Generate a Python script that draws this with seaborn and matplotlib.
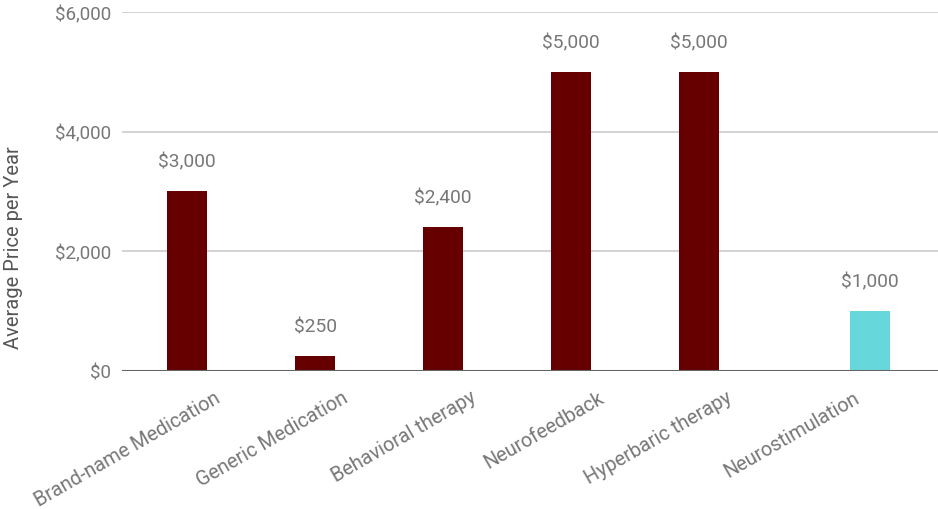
import matplotlib
matplotlib.use("Agg")
import matplotlib.pyplot as plt
import matplotlib.transforms as mtransforms
import seaborn as sns
import pandas as pd

# Treatment categories and yearly cost
categories = [
    "Brand-name Medication",
    "Generic Medication",
    "Behavioral therapy",
    "Neurofeedback",
    "Hyperbaric therapy",
    "Neurostimulation",
]
series = ["Conventional", "Conventional", "Conventional", "Conventional", "Conventional", "Neurostimulation"]
prices = [3000, 250, 2400, 5000, 5000, 1000]
series_order = ["Conventional", "Neurostimulation"]
series_colors = ["#660000", "#66D7DA"]
y_ticks = [0, 2000, 4000, 6000]

df = pd.DataFrame({"category": categories, "series": series, "price": prices})

sns.set_theme(style="white")
plt.rcParams["font.family"] = ["Roboto", "DejaVu Sans"]

fig = plt.figure(figsize=(9.38, 5.10), dpi=100)
ax = fig.add_axes([0.130, 0.2706, 0.870, 0.7039])

sns.barplot(
    data=df, x="category", y="price", hue="series",
    order=categories, hue_order=series_order, palette=series_colors,
    width=0.67, gap=0.07, dodge=True, legend=False, ax=ax,
    saturation=1.0, linewidth=0,
)

text_gray = "#777777"
for cont in ax.containers:
    ax.bar_label(cont, labels=[f"${v:,.0f}" if v == v else "" for v in cont.datavalues],
                 padding=15, color=text_gray, fontsize=13.8)

ax.set_ylim(0, 6000)
ax.set_xlim(-0.676, 5.70)
ax.set_yticks(y_ticks)
ax.set_yticklabels([f"${v:,.0f}" for v in y_ticks], color=text_gray, fontsize=13.5)
ax.yaxis.grid(True, color="#cccccc", linewidth=1.2)
ax.set_axisbelow(True)
ax.tick_params(axis="y", length=0, pad=8)
ax.tick_params(axis="x", length=0, pad=4)

ax.set_xticks(range(len(categories)))
ax.set_xticklabels(categories, rotation=30, ha="right", va="center",
                   rotation_mode="anchor", color=text_gray, fontsize=14.3)
offset = mtransforms.ScaledTranslation(10 / 100, -19 / 100, fig.dpi_scale_trans)
for lbl in ax.get_xticklabels():
    lbl.set_transform(lbl.get_transform() + offset)

ax.axhline(0, color="#666666", linewidth=1.5, zorder=3)
for s in ax.spines.values():
    s.set_visible(False)

ax.set_xlabel("")
ax.set_ylabel("")
fig.text(14 / 938, 1 - 248 / 510, "Average Price per Year", rotation=90,
         ha="center", va="center", color="#555555", fontsize=14.5)

fig.savefig("out.png", dpi=100)
